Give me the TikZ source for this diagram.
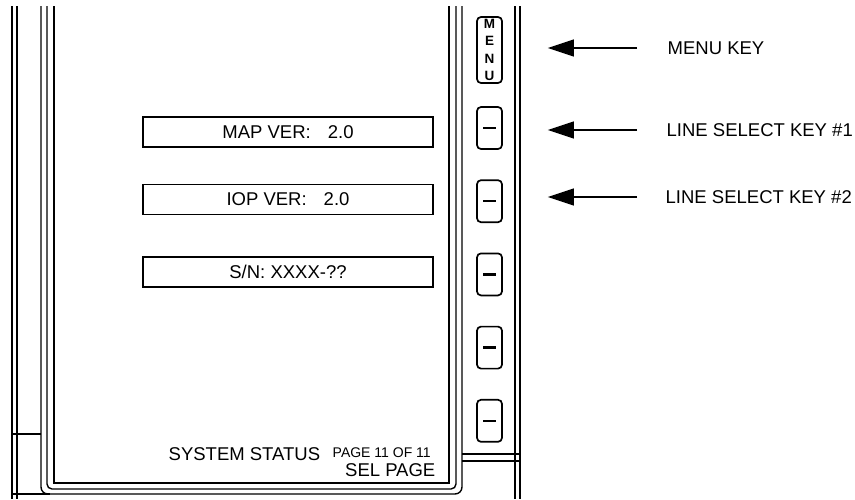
\documentclass[tikz,border=0pt]{standalone}
\usepackage{fontspec}
\setmainfont{Liberation Sans}
\usepackage{tikz}
\usetikzlibrary{arrows.meta,positioning}

\begin{document}
\begin{tikzpicture}[
    x=1pt, y=-1pt,
    line width=1.4pt,
    every node/.style={font=\fontsize{18.5}{20}\selectfont},
    field/.style={
        draw,
        rectangle,
        minimum width=290pt,
        minimum height=30pt,
        inner sep=0pt
    },
    linekey/.style={
        draw,
        rectangle,
        rounded corners=4pt,
        line width=1.7pt,
        minimum width=25pt,
        minimum height=42pt,
        inner sep=0pt
    },
    keyname/.style={anchor=west, inner sep=0pt},
    pointer/.style={-{Triangle[length=26pt,width=17pt]}, line width=1.4pt}
]
\useasboundingbox (0,0) rectangle (855,499);

% ==========================================================
% BEZEL
% ==========================================================
\draw (12,6) -- (12,499);
\draw (17,6) -- (17,499);
\draw (12,434) -- (41,434);
\draw (12,494) -- (50,494);
\draw[rounded corners=7pt] (41,6) -- (41,494) -- (462,494) -- (462,6);
\draw[rounded corners=5pt] (47,6) -- (47,489) -- (456,489) -- (456,6);
\draw (54,6) -- (54,483) -- (449,483) -- (449,6);
\draw (515,6) -- (515,499);
\draw (520,6) -- (520,499);
\draw (462,454) -- (520,454);
\draw (462,461) -- (520,461);

% ==========================================================
% DISPLAY FIELDS
% ==========================================================
\node[field] (mapver) at (288,132) {MAP VER:\hspace{17pt}2.0};
\node[field, below=36pt of mapver] (iopver) {IOP VER:\hspace{17pt}2.0};
\node[field, below=41pt of iopver] (serial) {S/N: XXXX-??};

\node[anchor=base west, inner sep=0pt] (title) at (168,460) {SYSTEM STATUS};
\node[anchor=base west, inner sep=0pt, font=\fontsize{14}{16}\selectfont] (pagenum) at (332,457) {PAGE 11 OF 11};
\node[anchor=base east, inner sep=0pt] (selpage) at (436,476) {SEL PAGE};

% ==========================================================
% KEYS
% ==========================================================
\node[linekey, minimum height=66pt, align=center,
      font=\fontsize{13.5}{17.5}\selectfont\bfseries] (menukey) at (489.5,50) {M\\E\\N\\U};
\node[linekey] (lsk1) at (489.5,128) {\rule{13pt}{2.4pt}};
\node[linekey, below=29.5pt of lsk1] (lsk2) {\rule{13pt}{2.4pt}};
\node[linekey, below=29.5pt of lsk2] (lsk3) {\rule{13pt}{2.4pt}};
\node[linekey, below=29.5pt of lsk3] (lsk4) {\rule{13pt}{2.4pt}};
\node[linekey, below=29.5pt of lsk4] (lsk5) {\rule{13pt}{2.4pt}};

% ==========================================================
% CALLOUTS
% ==========================================================
\node[keyname] (menulbl) at (667,48) {MENU KEY};
\node[keyname] (lsk1lbl) at (666,130) {LINE SELECT KEY \#1};
\node[keyname] (lsk2lbl) at (665,197) {LINE SELECT KEY \#2};

\draw[pointer, shorten <=30pt, shorten >=45pt] (menulbl.west) -- (menulbl.west -| menukey.east);
\draw[pointer, shorten <=29pt, shorten >=45pt] (lsk1lbl.west) -- (lsk1lbl.west -| lsk1.east);
\draw[pointer, shorten <=28pt, shorten >=45pt] (lsk2lbl.west) -- (lsk2lbl.west -| lsk2.east);

\end{tikzpicture}
\end{document}
